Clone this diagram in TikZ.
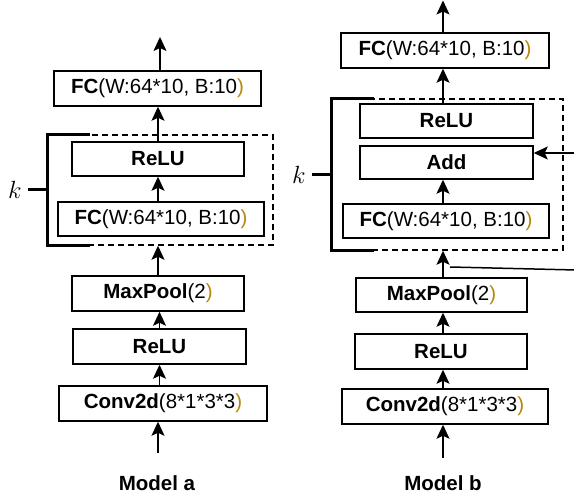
\documentclass[tikz,border=0pt]{standalone}
\usepackage{fontspec}
\setmainfont{Liberation Sans}
\usepackage{tikz}
\usetikzlibrary{arrows.meta}
\definecolor{parenbrown}{RGB}{184,134,11}
\newcommand{\rparen}{\textcolor{parenbrown}{)}}
\newcommand{\kmark}{\fontsize{24.88}{28}\selectfont$k$}

\begin{document}
\begin{tikzpicture}[x=1pt,y=-1pt,line width=1.5pt,
  layer/.style={draw,inner sep=0pt,minimum height=35pt,font=\fontsize{20.5}{24}\selectfont},
  flow/.style={-{Stealth[length=14pt,width=13pt,inset=3pt]}},
  block/.style={draw,dash pattern=on 6pt off 4pt,inner sep=0pt},
  bracket/.style={line width=3pt},
  caption/.style={font=\fontsize{20.5}{24}\selectfont\bfseries}]
\useasboundingbox (0,0) rectangle (574,497);

% Model a
\node[block,minimum width=225pt,minimum height=110pt] (blockA) at (160.5,190) {};
\node[layer,minimum width=207pt] (fcA) at (157.5,88.5) {\textbf{FC}(W:64*10, B:10\rparen};
\node[layer,minimum width=172pt,minimum height=34pt] (reluA2) at (158,159) {\textbf{ReLU}};
\node[layer,minimum width=206pt,minimum height=34pt] (fcA2) at (161,219) {\textbf{FC}(W:64*10, B:10\rparen};
\node[layer,minimum width=172pt] (poolA) at (158,293.5) {\textbf{MaxPool}(2\rparen};
\node[layer,minimum width=173pt] (reluA) at (159.5,346.5) {\textbf{ReLU}};
\node[layer,minimum width=208pt] (convA) at (163,403.5) {\textbf{Conv2d}(8*1*3*3\rparen};
\node[caption] (capA) at (157,483) {Model a};
\coordinate (inA) at (158,453);
\coordinate (outA) at (160,37);

\draw[bracket] ([xshift=43pt]blockA.north west) -- (blockA.north west)
  -- (blockA.south west) -- ([xshift=43pt]blockA.south west);
\draw[bracket] (blockA.west) -- ++(-19,0)
  node[left=3pt,inner sep=2pt] (kA) {\kmark};

\draw[flow] (inA) -- (inA |- convA.south);
\draw[flow] (convA.north -| reluA) -- (reluA.south);
\draw[flow] (reluA.north) -- (reluA.north |- poolA.south);
\draw[flow] (poolA.north) -- (poolA.north |- blockA.south);
\draw[flow] (fcA2.north -| reluA2) -- (reluA2.south);
\draw[flow] (reluA2.north) -- (reluA2.north |- fcA.south);
\draw[flow] (fcA.north -| outA) -- (outA);

% Model b
\node[block,minimum width=231pt,minimum height=151pt] (blockB) at (447.5,174.5) {};
\node[layer,minimum width=208pt] (fcB) at (445,50.5) {\textbf{FC}(W:64*10, B:10\rparen};
\node[layer,minimum width=173pt,minimum height=34pt] (reluB2) at (446.5,121) {\textbf{ReLU}};
\node[layer,minimum width=173pt,minimum height=33pt] (addB) at (446.5,162.5) {\textbf{Add}};
\node[layer,minimum width=206pt,minimum height=34pt] (fcB2) at (446,221) {\textbf{FC}(W:64*10, B:10\rparen};
\node[layer,minimum width=171pt,minimum height=34pt] (poolB) at (441.5,295) {\textbf{MaxPool}(2\rparen};
\node[layer,minimum width=172pt] (reluB) at (441,351.5) {\textbf{ReLU}};
\node[layer,minimum width=206pt] (convB) at (445,406.5) {\textbf{Conv2d}(8*1*3*3\rparen};
\node[caption] (capB) at (443,483) {Model b};
\coordinate (inB) at (443,458);
\coordinate (outB) at (443,0.5);
\coordinate (skipIn) at (576,153);
\coordinate (skipOut) at (450,267);
\coordinate (skipEnd) at (576,270);

\draw[bracket] ([xshift=43pt]blockB.north west) -- (blockB.north west)
  -- (blockB.south west) -- ([xshift=43pt]blockB.south west);
\draw[bracket] (blockB.west) -- ++(-19,0)
  node[left=3pt,inner sep=2pt] (kB) {\kmark};

\draw[flow] (inB) -- (inB |- convB.south);
\draw[flow] (inB |- convB.north) -- (inB |- reluB.south);
\draw[flow] (inB |- reluB.north) -- (inB |- poolB.south);
\draw[flow] (inB |- poolB.north) -- (inB |- blockB.south);
\draw[flow] (inB |- fcB2.north) -- (inB |- addB.south);
\draw[flow] (inB |- reluB2.north) -- (inB |- fcB.south);
\draw[flow] (inB |- fcB.north) -- (outB);
\draw[flow] (skipIn) -- (skipIn -| addB.east);
\draw (skipOut) -- (skipEnd);
\end{tikzpicture}
\end{document}
